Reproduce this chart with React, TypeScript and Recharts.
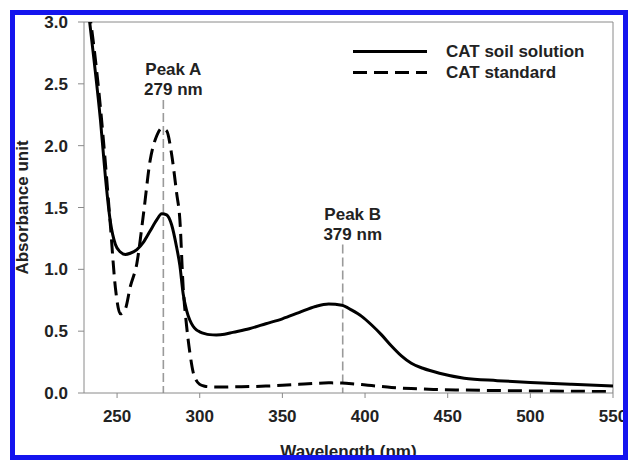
import { LineChart, Line, XAxis, YAxis, ReferenceLine, Legend } from 'recharts';

// wavelength grid (nm) shared by both spectra
const wavelengths = [
  233, 236, 240, 243, 246, 249, 252, 255, 258, 262, 266, 270, 274, 277, 280, 283, 286, 288, 290, 292,
  294, 296, 298, 300, 303, 306, 310, 315, 320, 330, 340, 350, 360, 370, 378, 386, 392, 398, 404, 410,
  416, 422, 428, 435, 445, 460, 480, 500, 525, 550,
];

const soilSolution = [
  3.05, 2.7, 2.2, 1.74, 1.38, 1.2, 1.14, 1.12, 1.13, 1.16, 1.22, 1.31, 1.4, 1.45, 1.44, 1.36, 1.18, 1.03, 0.8, 0.67,
  0.59, 0.54, 0.51, 0.495, 0.48, 0.472, 0.47, 0.475, 0.49, 0.52, 0.56, 0.6, 0.65, 0.7, 0.72, 0.71, 0.67, 0.62, 0.55, 0.47,
  0.38, 0.3, 0.24, 0.2, 0.16, 0.12, 0.1, 0.085, 0.07, 0.057,
];

const catStandard = [
  3.1, 2.8, 2.3, 1.85, 1.35, 0.85, 0.64, 0.68, 0.86, 1.05, 1.45, 1.88, 2.08, 2.14, 2.12, 1.93, 1.62, 1.4, 0.85, 0.55,
  0.33, 0.17, 0.1, 0.07, 0.055, 0.05, 0.048, 0.048, 0.05, 0.052, 0.056, 0.062, 0.07, 0.078, 0.082, 0.08, 0.075, 0.068, 0.06, 0.052,
  0.045, 0.04, 0.036, 0.032, 0.028, 0.024, 0.02, 0.017, 0.014, 0.012,
];

const xTicks = [250, 300, 350, 400, 450, 500, 550];
const yTicks = [0, 0.5, 1, 1.5, 2, 2.5, 3];

// peak markers: where the guide line sits, how high it reaches, and its caption
const peakNames = ['Peak A', 'Peak B'];
const peakCaptions = ['279 nm', '379 nm'];
const peakLineX = [278, 386.5];
const peakLineTop = [2.37, 1.2];

const FONT = '"Liberation Sans", Arial, sans-serif';
const TEXT = '#222';
const AXIS = '#8a8a8a';

const chartData = wavelengths.map((w, i) => ({
  wavelength: w,
  soil: soilSolution[i],
  standard: catStandard[i],
}));

const series = [
  { key: 'soil', name: 'CAT soil solution', dash: undefined as string | undefined },
  { key: 'standard', name: 'CAT standard', dash: '14 7' },
];

function LegendBox() {
  return (
    <div style={{ fontFamily: FONT, fontWeight: 'bold', fontSize: 17, color: TEXT }}>
      {series.map((s) => (
        <div key={s.key} style={{ display: 'flex', alignItems: 'center', height: 21 }}>
          <svg width={93} height={21}>
            <line x1={0} y1={10.5} x2={74} y2={10.5} stroke="#000" strokeWidth={3} strokeDasharray={s.dash} />
          </svg>
          <span>{s.name}</span>
        </div>
      ))}
    </div>
  );
}

const peakShape = (idx: number) => (props: any) => {
  const { x1, y1, x2, y2 } = props;
  const top = Math.min(y1, y2);
  const bottom = Math.max(y1, y2);
  return (
    <g>
      <line x1={x1} y1={top} x2={x2} y2={bottom} stroke="#9a9a9a" strokeWidth={1.6} strokeDasharray="9 4" />
      <text x={x1 + 10} y={top - 25} textAnchor="middle" fontFamily={FONT} fontWeight="bold" fontSize={17} fill={TEXT}>
        {peakNames[idx]}
      </text>
      <text x={x1 + 10} y={top - 5} textAnchor="middle" fontFamily={FONT} fontWeight="bold" fontSize={17} fill={TEXT}>
        {peakCaptions[idx]}
      </text>
    </g>
  );
};

const yLabel = (props: any) => {
  const vb = props.viewBox;
  const cx = vb.x - 2;
  const cy = vb.y + vb.height / 2;
  return (
    <text
      x={cx}
      y={cy}
      transform={`rotate(-90, ${cx}, ${cy})`}
      textAnchor="middle"
      dominantBaseline="central"
      fontFamily={FONT}
      fontWeight="bold"
      fontSize={17}
      fill={TEXT}
    >
      Absorbance unit
    </text>
  );
};

export default function App() {
  const tickStyle = { fontFamily: FONT, fontWeight: 'bold', fontSize: 17, fill: TEXT };
  return (
    <div style={{ position: 'absolute', left: 0, top: 0, width: 629, height: 460, overflow: 'hidden', background: '#fff' }}>
      <LineChart width={629} height={460} data={chartData} margin={{ top: 22, right: 16, left: 24, bottom: 3 }}>
        <XAxis
          dataKey="wavelength"
          type="number"
          domain={[230, 550]}
          ticks={xTicks}
          height={64}
          stroke={AXIS}
          tickSize={5}
          tickMargin={12}
          tick={tickStyle}
          label={{
            value: 'Wavelength (nm)',
            position: 'insideBottom',
            offset: 0,
            style: { fontFamily: FONT, fontWeight: 'bold', fontSize: 17, fill: TEXT },
          }}
        />
        <YAxis
          type="number"
          domain={[0, 3]}
          ticks={yTicks}
          allowDataOverflow
          width={60}
          stroke={AXIS}
          tickSize={6}
          tickMargin={10}
          tick={tickStyle}
          tickFormatter={(v: number) => v.toFixed(1)}
          label={yLabel}
        />
        <ReferenceLine y={3} stroke={AXIS} />
        <ReferenceLine x={550} stroke={AXIS} />
        {peakLineX.map((x, i) => (
          <ReferenceLine
            key={peakNames[i]}
            segment={[
              { x, y: 0 },
              { x, y: peakLineTop[i] },
            ]}
            shape={peakShape(i)}
          />
        ))}
        <Legend
          verticalAlign="middle"
          align="center"
          content={() => <LegendBox />}
          wrapperStyle={{ left: 353, top: 41, width: 260 }}
        />
        {series.map((s) => (
          <Line
            key={s.key}
            dataKey={s.key}
            name={s.name}
            type="monotone"
            stroke="#000"
            strokeWidth={3}
            strokeDasharray={s.dash}
            dot={false}
            isAnimationActive={false}
          />
        ))}
      </LineChart>
      <div
        style={{
          position: 'absolute',
          left: 10,
          top: 10,
          width: 618,
          height: 450,
          boxSizing: 'border-box',
          border: '5px solid #1414ee',
          pointerEvents: 'none',
        }}
      />
    </div>
  );
}
